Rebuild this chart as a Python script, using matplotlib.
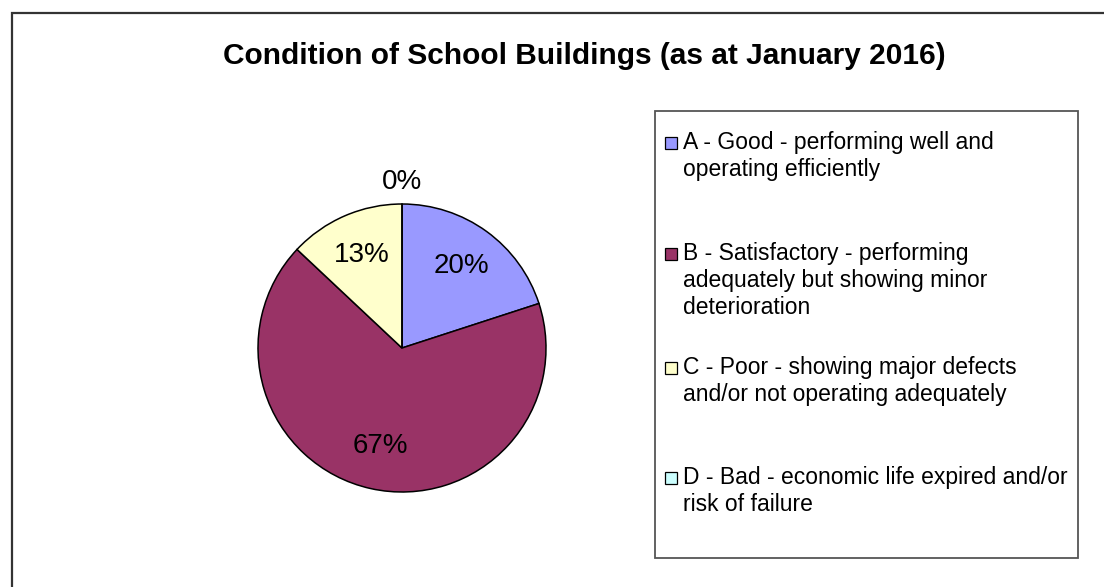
import matplotlib.pyplot as plt
import numpy as np
from matplotlib.patches import Rectangle

plt.rcParams['font.family'] = ['Liberation Sans', 'DejaVu Sans']

title = "Condition of School Buildings (as at January 2016)"
categories = [
  "A - Good - performing well and\noperating efficiently",
  "B - Satisfactory - performing\nadequately but showing minor\ndeterioration",
  "C - Poor - showing major defects\nand/or not operating adequately",
  "D - Bad - economic life expired and/or\nrisk of failure",
]
shares = [20, 67, 13, 0]
colors = ["#9999FF", "#993366", "#FFFFCC", "#CCFFFF"]

W, H = 1104, 587

def fx(px):
  return px / W

def fy(py):
  return 1 - py / H

fig = plt.figure(figsize=(W / 100, H / 100), dpi=100)

# outer chart frame (runs off the right / bottom edge)
fig.add_artist(Rectangle((fx(12), fy(600)), fx(1120 - 12), fy(13) - fy(600),
                         transform=fig.transFigure, fill=False,
                         edgecolor="#333333", linewidth=1.6))

fig.text(fx(584), fy(56), title, ha='center', va='center',
         fontsize=21.5, fontweight='bold')

# pie
cx, cy, R = 402, 348, 144
half = 1.25 * R
ax = fig.add_axes([fx(cx - half), fy(cy + half), 2 * half / W, 2 * half / H])
wedges, texts, autotexts = ax.pie(
  shares, colors=colors, startangle=90, counterclock=False,
  autopct='%1.0f%%', pctdistance=0.7,
  wedgeprops=dict(edgecolor='black', linewidth=1.1),
  textprops=dict(fontsize=20))
ax.set_xlim(-1.25, 1.25)
ax.set_ylim(-1.25, 1.25)
ax.set_aspect('auto')

# zero-share label sits outside the pie
for w, t, v in zip(wedges, autotexts, shares):
  if v == 0:
    ang = np.deg2rad((w.theta1 + w.theta2) / 2)
    t.set_position((1.15 * np.cos(ang), 1.15 * np.sin(ang)))

# legend box drawn like the spreadsheet one
fig.add_artist(Rectangle((fx(655), fy(558)), fx(1078 - 655), fy(111) - fy(558),
                         transform=fig.transFigure, facecolor='white',
                         edgecolor="#555555", linewidth=1.3))
row_y = [142, 253, 367, 477]
sq = 12
for lab, col, y in zip(categories, colors, row_y):
  fig.add_artist(Rectangle((fx(665), fy(y + 1 + sq / 2)), sq / W, sq / H,
                           transform=fig.transFigure, facecolor=col,
                           edgecolor='black', linewidth=0.9))
  fig.text(fx(683), fy(y - 11), lab, ha='left', va='top',
           fontsize=16.5, linespacing=1.22)

plt.savefig("out.png", dpi=100)
